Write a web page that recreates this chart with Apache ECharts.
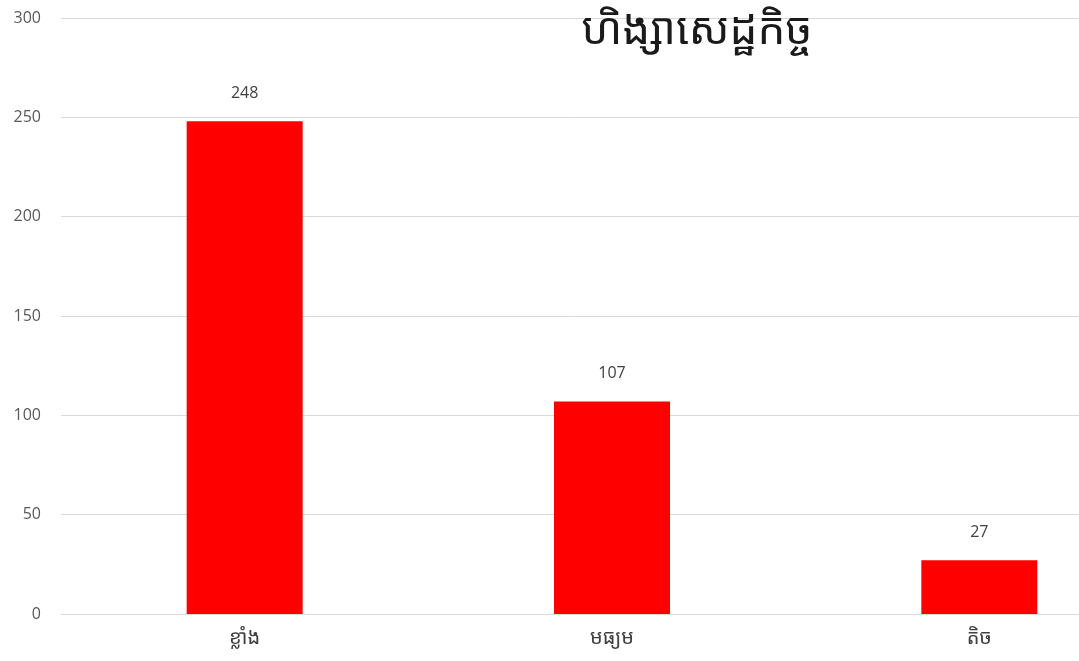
<!DOCTYPE html>
<html>
<head>
<meta charset="utf-8">
<script src="https://cdn.jsdelivr.net/npm/echarts@6/dist/echarts.min.js"></script>
<style>html,body{margin:0;padding:0;background:#fff;}#c{width:1079px;height:661px;}</style>
</head>
<body>
<div id="c"></div>
<script>
const titleText = 'ហិង្សាសេដ្ឋកិច្ច';
const categories = ['ខ្លាំង', 'មធ្យម', 'តិច'];
const values = [248, 107, 27];
const yTicks = {min: 0, max: 300, interval: 50};

const chart = echarts.init(document.getElementById('c'), null, {renderer: 'canvas'});
chart.setOption({
  backgroundColor: '#ffffff',
  animation: false,
  title: {
    text: titleText,
    left: 692, top: 4,
    textAlign: 'center',
    textStyle: {fontSize: 44, fontWeight: 'normal', color: '#1a1a1a', fontFamily: '"Noto Sans Khmer", "Khmer OS", "Noto Sans", sans-serif'}
  },
  grid: {left: 61, top: 18, width: 1102, height: 596, containLabel: false, outerBoundsMode: 'none'},
  xAxis: {
    type: 'category',
    data: categories,
    axisLine: {show: true, lineStyle: {color: '#d9d9d9', width: 1}},
    axisTick: {show: false},
    axisLabel: {color: '#404040', fontSize: 20, margin: 14, fontFamily: '"Noto Sans Khmer", "Noto Sans", sans-serif'}
  },
  yAxis: {
    type: 'value',
    min: yTicks.min, max: yTicks.max, interval: yTicks.interval,
    axisLine: {show: false},
    axisTick: {show: false},
    splitLine: {lineStyle: {color: '#d9d9d9', width: 1}},
    axisLabel: {color: '#595959', fontSize: 16, margin: 20, fontFamily: '"Open Sans", "Liberation Sans", sans-serif'}
  },
  series: [{
    type: 'bar',
    data: values,
    barWidth: 116,
    itemStyle: {color: '#ff0000'},
    label: {show: true, position: 'top', distance: 20, color: '#404040', fontSize: 16, fontFamily: '"Open Sans", "Liberation Sans", sans-serif'}
  }]
});
</script>
</body>
</html>
